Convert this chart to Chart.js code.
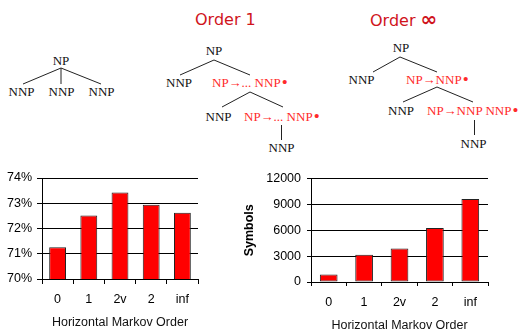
<!DOCTYPE html>
<html>
<head>
<meta charset="utf-8">
<script src="https://cdn.jsdelivr.net/npm/chart.js@4.4.0/dist/chart.umd.min.js"></script>
<style>
  html, body { margin:0; padding:0; background:#fff; width:523px; height:331px; overflow:hidden; }
  #stage { position:relative; width:523px; height:331px; }
  .t { position:absolute; font-family:"Liberation Serif","Times New Roman",serif; font-size:13px; color:#111; white-space:nowrap; line-height:1; }
  .c { transform:translate(-50%,-50%); }
  .l { transform:translate(0,-50%); }
  .red { color:#ff2a2a; }
  .dot { font-size:17px; line-height:0; position:relative; top:1px; margin-left:1px; }
  .ord { position:absolute; font-family:"DejaVu Sans",sans-serif; font-size:16px; color:#d0141c; white-space:nowrap; line-height:1; transform:translate(0,-50%); }
  .inf { font-weight:bold; font-size:20px; }
  svg { position:absolute; left:0; top:0; }
  .cw { position:absolute; }
</style>
</head>
<body>
<div id="stage">
  <svg width="523" height="170">
    <g stroke="#222" stroke-width="1" fill="none">
      <line x1="61" y1="68" x2="23" y2="84"/>
      <line x1="61" y1="68" x2="61" y2="84"/>
      <line x1="61" y1="68" x2="101" y2="84"/>

      <line x1="214" y1="60" x2="180" y2="75"/>
      <line x1="214" y1="60" x2="250" y2="75"/>
      <line x1="250" y1="92" x2="222" y2="107"/>
      <line x1="250" y1="92" x2="283" y2="107"/>
      <line x1="281.5" y1="125" x2="281.5" y2="140"/>

      <line x1="400" y1="57" x2="373" y2="72"/>
      <line x1="400" y1="57" x2="437" y2="72"/>
      <line x1="437" y1="87" x2="403" y2="102"/>
      <line x1="437" y1="87" x2="473" y2="102"/>
      <line x1="474.5" y1="120" x2="474.5" y2="135"/>
    </g>
  </svg>

  <div class="t c" style="left:61px;top:60px">NP</div>
  <div class="t c" style="left:21.5px;top:91px">NNP</div>
  <div class="t c" style="left:61.5px;top:91px">NNP</div>
  <div class="t c" style="left:101.5px;top:91px">NNP</div>

  <div class="ord" style="left:195px;top:20px">Order 1</div>
  <div class="t c" style="left:214px;top:50px">NP</div>
  <div class="t c" style="left:179px;top:82px">NNP</div>
  <div class="t l red" style="left:212px;top:82px">NP→... NNP<span class="dot">•</span></div>
  <div class="t c" style="left:218.5px;top:116px">NNP</div>
  <div class="t l red" style="left:244px;top:116px">NP→... NNP<span class="dot">•</span></div>
  <div class="t c" style="left:281.5px;top:147px">NNP</div>

  <div class="ord" style="left:370px;top:19px">Order <span class="inf">∞</span></div>
  <div class="t c" style="left:401px;top:47px">NP</div>
  <div class="t c" style="left:361.5px;top:79px">NNP</div>
  <div class="t l red" style="left:406px;top:79px">NP→NNP<span class="dot">•</span></div>
  <div class="t c" style="left:401px;top:110px">NNP</div>
  <div class="t l red" style="left:427px;top:110px">NP→NNP NNP<span class="dot">•</span></div>
  <div class="t c" style="left:473.5px;top:143px">NNP</div>

  <div class="cw" style="left:0px;top:165px;width:205px;height:166px"><canvas id="c1"></canvas></div>
  <div class="cw" style="left:240px;top:165px;width:260px;height:170px"><canvas id="c2"></canvas></div>
</div>
<script>
const categories = ['0', '1', '2v', '2', 'inf'];
const accuracyValues = [71.26, 72.51, 73.43, 72.94, 72.62];
const symbolValues = [870, 3170, 3890, 6260, 9620];
const accuracyTicks = [70, 71, 72, 73, 74];
const symbolTicks = [0, 3000, 6000, 9000, 12000];
const xTitle = 'Horizontal Markov Order';
const yTitleRight = 'Symbols';

Chart.defaults.font.family = '"Liberation Sans", Arial, sans-serif';
Chart.defaults.color = '#000';
Chart.defaults.animation = false;

function makeChart(id, values, ticks, opts) {
  return new Chart(document.getElementById(id), {
    type: 'bar',
    data: {
      labels: categories,
      datasets: [{
        data: values,
        backgroundColor: '#ff0000',
        borderColor: '#222',
        borderWidth: 1,
        borderSkipped: false,
        categoryPercentage: 1,
        barPercentage: opts.barPct
      }]
    },
    options: {
      responsive: true,
      maintainAspectRatio: false,
      animation: false,
      layout: { padding: opts.padding },
      plugins: { legend: { display: false }, tooltip: { enabled: false } },
      scales: {
        x: {
          grid: { display: true, drawOnChartArea: false, drawTicks: true, tickLength: opts.xTick, color: '#000', offset: true },
          border: { display: true, color: '#000' },
          ticks: { font: { size: 12.5 }, padding: opts.xPad, color: '#000', maxRotation: 0 },
          title: { display: true, text: xTitle, font: { size: 12.5 }, color: '#111', padding: { top: 0, bottom: opts.titlePad } },
          afterFit: s => { s.height = opts.xH; }
        },
        y: {
          min: ticks[0], max: ticks[ticks.length - 1],
          afterBuildTicks: s => { s.ticks = ticks.map(v => ({ value: v })); },
          grid: { color: '#000', tickLength: opts.yTick, drawTicks: true },
          border: { display: true, color: '#000' },
          ticks: { font: { size: 12.5 }, padding: opts.yPad, color: '#000', callback: opts.fmt },
          title: opts.yTitle ? { display: true, text: opts.yTitle, font: { size: 12.5, weight: 'bold' }, color: '#000', padding: { top: 2, bottom: 0 } } : { display: false },
          afterFit: s => { s.width = opts.yW; }
        }
      }
    }
  });
}

makeChart('c1', accuracyValues, accuracyTicks, {
  barPct: 0.54, padding: { left: 0, right: 7, top: 13, bottom: 0 },
  xTick: 5, xPad: 8, titlePad: 1, xH: 52, yTick: 5, yPad: 5, yW: 42,
  fmt: v => v + '%'
});

makeChart('c2', symbolValues, symbolTicks, {
  barPct: 0.5, padding: { left: 0, right: 12, top: 12, bottom: 0 },
  xTick: 4, xPad: 9, titlePad: 2, xH: 53, yTick: 4, yPad: 6, yW: 71,
  yTitle: yTitleRight,
  fmt: v => String(v)
});
</script>
</body>
</html>
